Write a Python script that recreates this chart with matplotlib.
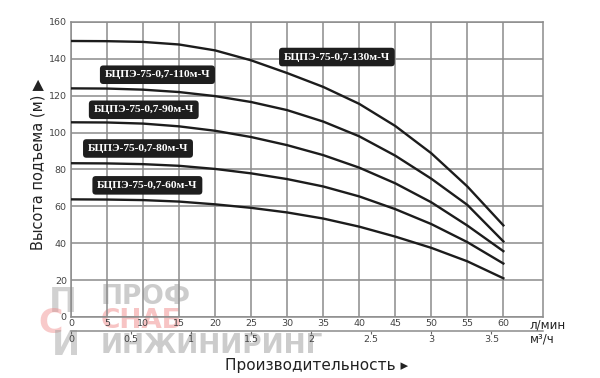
import matplotlib
matplotlib.use("Agg")
from matplotlib import pyplot as plt

# flow, l/min
flow = [0, 5, 10, 15, 20, 25, 30, 35, 40, 45, 50, 55, 60]

# head, m
head_130 = [149.7, 149.6, 149.2, 147.8, 144.6, 139.2, 132.3, 124.8, 115.6, 103.6, 88.8, 70.8, 49.7]
head_110 = [124.0, 123.9, 123.3, 122.0, 119.8, 116.6, 112.2, 106.0, 98.0, 87.5, 75.0, 60.8, 41.0]
head_90 = [105.6, 105.5, 104.9, 103.4, 101.0, 97.6, 93.2, 87.8, 81.0, 72.5, 62.2, 49.6, 35.7]
head_80 = [83.4, 83.3, 82.9, 82.0, 80.3, 77.9, 74.8, 70.8, 65.4, 58.5, 50.4, 40.6, 29.0]
head_60 = [63.8, 63.7, 63.4, 62.6, 61.1, 59.2, 56.7, 53.4, 49.0, 43.6, 37.5, 30.2, 21.0]

curves = [head_130, head_110, head_90, head_80, head_60]
names = ['БЦПЭ-75-0,7-130м-Ч', 'БЦПЭ-75-0,7-110м-Ч', 'БЦПЭ-75-0,7-90м-Ч',
         'БЦПЭ-75-0,7-80м-Ч', 'БЦПЭ-75-0,7-60м-Ч']
label_x = [36.9, 12.0, 10.1, 9.3, 10.6]
label_y = [141.0, 131.4, 112.4, 91.4, 71.4]

lpm_ticks = list(range(0, 61, 5))
m3h_ticks = [0, 0.5, 1, 1.5, 2, 2.5, 3, 3.5]
m3h_labels = ['0', '0.5', '1', '1.5', '2', '2.5', '3', '3.5']

fig = plt.figure(figsize=(6, 3.78), dpi=100)
ax = fig.add_axes([0.1183, 0.1614, 0.7867, 0.7804])
ax.patch.set_alpha(0)

for h in curves:
    ax.plot(flow, h, color='#1c1c1c', lw=1.7, solid_joinstyle='round', zorder=3)

for name, x, y in zip(names, label_x, label_y):
    ax.text(x, y, name, ha='center', va='center', fontsize=8.2, fontweight='bold',
            family='Liberation Serif', color='white', zorder=5,
            bbox=dict(boxstyle='round,pad=0.42,rounding_size=0.3', fc='#1e1e1e', ec='none'))

ax.set_xlim(0, 65.5)
ax.set_ylim(0, 160)
ax.set_xticks(lpm_ticks)
ax.set_yticks(range(0, 161, 20))
ax.grid(True, color='#8c8c8c', lw=1.1)
ax.set_axisbelow(True)
for s in ax.spines.values():
    s.set_color('#8c8c8c')
    s.set_linewidth(1.1)
ax.tick_params(axis='x', length=0, labelsize=6.8, labelcolor='#444444', pad=1.5)
ax.tick_params(axis='y', length=0, labelsize=6.8, labelcolor='#444444', pad=3)

# second flow axis, m3/h
sec = ax.secondary_xaxis(-14 / 295, functions=(lambda q: q * 60 / 1000, lambda v: v * 1000 / 60))
sec.set_xticks(m3h_ticks)
sec.set_xticklabels(m3h_labels)
sec.tick_params(length=2.5, width=0.8, color='#666666', labelsize=6.8, labelcolor='#444444', pad=0.5)
sec.spines['bottom'].set_color('#8c8c8c')
sec.spines['bottom'].set_linewidth(1.1)

fig.text(0.883, 0.141, 'л/мин', fontsize=8.5, color='#222222', va='center')
fig.text(0.883, 0.104, 'м³/ч', fontsize=8.5, color='#222222', va='center')

fig.text(0.063, 0.565, 'Высота подъема (м) ▶', rotation=90, fontsize=10.5,
         color='#222222', ha='center', va='center')
fig.text(0.527, 0.034, 'Производительность ▸', fontsize=11, color='#222222',
         ha='center', va='center')

# watermark, behind the chart
wm = dict(fontsize=19, fontweight='bold', alpha=0.5, va='center',
          family='Liberation Sans Narrow', zorder=-1)
fig.text(0.167, 0.215, 'ПРОФ', color='#9a9a9a', **wm)
fig.text(0.167, 0.152, 'СНАБ', color='#f08a8a', **wm)
fig.text(0.167, 0.085, 'ИНЖИНИРИНГ', color='#9a9a9a', **wm)
logo = dict(fontsize=24, fontweight='bold', alpha=0.45, ha='center', va='center',
            family='Liberation Sans Narrow', zorder=-1)
fig.text(0.105, 0.2, 'П', color='#9a9a9a', **logo)
fig.text(0.085, 0.145, 'С', color='#f08a8a', **logo)
fig.text(0.11, 0.085, 'И', color='#9a9a9a', **logo)

fig.savefig('out.png', dpi=100)
